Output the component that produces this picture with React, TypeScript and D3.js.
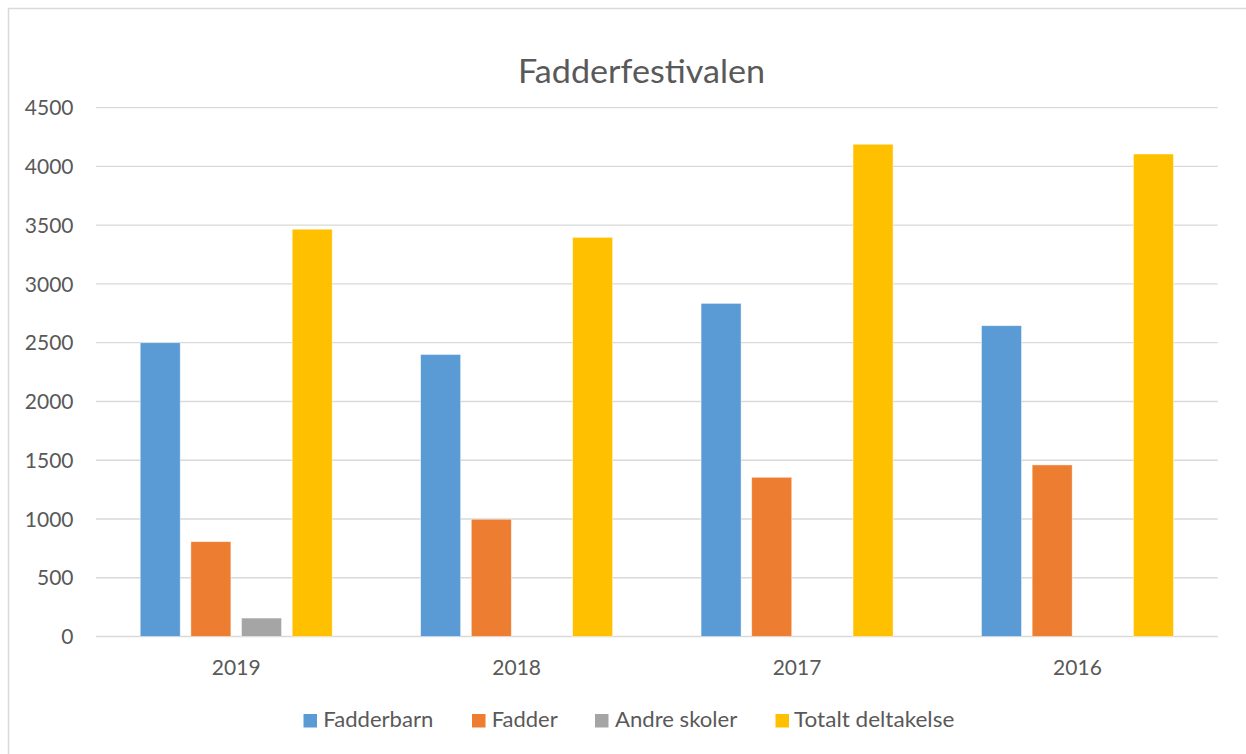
import React from "react";
import * as d3 from "d3";

const categories = ["2019", "2018", "2017", "2016"];
const seriesNames = ["Fadderbarn", "Fadder", "Andre skoler", "Totalt deltakelse"];
const fadderbarn = [2500, 2400, 2835, 2645];
const fadder = [807, 998, 1355, 1460];
const andreSkoler = [157, 0, 0, 0];
const totaltDeltakelse = [3466, 3397, 4189, 4106];
const yTicks = [0, 500, 1000, 1500, 2000, 2500, 3000, 3500, 4000, 4500];
const colors = ["#5B9BD5", "#ED7D31", "#A5A5A5", "#FFC000"];
const title = "Fadderfestivalen";

const seriesValues = [fadderbarn, fadder, andreSkoler, totaltDeltakelse];

// legend layout measured from reference (marker x, text start, text width)
const legendLayout = [
  { mx: 303.5, tx: 323.3, tw: 110 },
  { mx: 472, tx: 491.7, tw: 66 },
  { mx: 595, tx: 615, tw: 122.3 },
  { mx: 775.5, tx: 794, tw: 160.3 },
];

const FONT = "Lato, 'Open Sans', 'Liberation Sans', sans-serif";
const TEXT = "#595959";
const GRID = "#D9D9D9";

export default function App() {
  const x0 = d3.scaleBand<string>().domain(categories).range([96, 1217.7]).paddingInner(0).paddingOuter(0);
  const groupWidth = 192;
  const x1 = d3
    .scaleBand<string>()
    .domain(seriesNames)
    .range([0, groupWidth])
    .paddingInner(0.21)
    .paddingOuter(0);
  const y = d3.scaleLinear().domain([0, 4500]).range([636.5, 107.7]);

  return (
    <svg
      width={1246}
      height={754}
      style={{ position: "absolute", left: 0, top: 0, background: "#fff" }}
      fontFamily={FONT}
    >
      <rect x={0} y={0} width={1246} height={754} fill="#fff" />
      <rect x={8.5} y={8.5} width={1300} height={800} fill="#fff" stroke={GRID} strokeWidth={1.5} />
      <text
        x={641.5}
        y={83}
        textAnchor="middle"
        fontSize={33}
        fill={TEXT}
        textLength={247}
        lengthAdjust="spacingAndGlyphs"
      >
        {title}
      </text>
      {yTicks.map((t) => (
        <g key={t}>
          <line x1={96} x2={1217.7} y1={y(t)} y2={y(t)} stroke={GRID} strokeWidth={1.3} />
          <text x={73.5} y={y(t) + 7.6} textAnchor="end" fontSize={21} fill={TEXT}>
            {t}
          </text>
        </g>
      ))}
      {categories.map((c, ci) => {
        const gx = (x0(c) as number) + (x0.bandwidth() - groupWidth) / 2;
        return (
          <g key={c}>
            {seriesNames.map((s, si) => {
              const v = seriesValues[si][ci];
              if (!v) return null;
              return (
                <rect
                  key={s}
                  x={gx + (x1(s) as number)}
                  y={y(v)}
                  width={x1.bandwidth()}
                  height={y(0) - y(v)}
                  fill={colors[si]}
                  stroke="#fff"
                  strokeOpacity={0.6}
                  strokeWidth={0.75}
                />
              );
            })}
            <text
              x={(x0(c) as number) + x0.bandwidth() / 2}
              y={675}
              textAnchor="middle"
              fontSize={21}
              fill={TEXT}
            >
              {c}
            </text>
          </g>
        );
      })}
      {seriesNames.map((s, si) => {
        const L = legendLayout[si];
        return (
          <g key={s}>
            <rect x={L.mx} y={714} width={13.5} height={13.5} fill={colors[si]} />
            <text
              x={L.tx}
              y={727}
              fontSize={21}
              fill={TEXT}
              textLength={L.tw}
              lengthAdjust="spacingAndGlyphs"
            >
              {s}
            </text>
          </g>
        );
      })}
    </svg>
  );
}
